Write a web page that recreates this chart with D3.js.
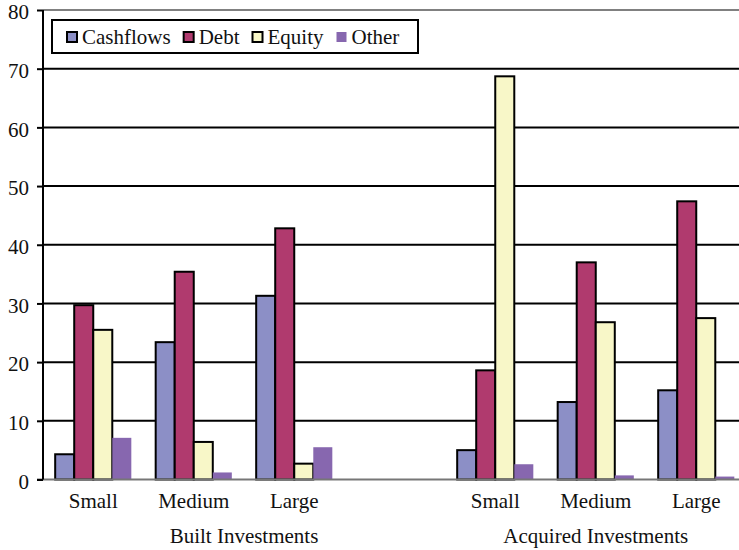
<!DOCTYPE html>
<html>
<head>
<meta charset="utf-8">
<script src="https://cdn.jsdelivr.net/npm/d3@7"></script>
<style>
  body { margin: 0; background: #fff; }
</style>
</head>
<body>
<div id="chart"></div>
<script>
// category layout: built group keeps an empty slot at its end
const groups = ["Built Investments", "Acquired Investments"];
const builtSlots = ["Small", "Medium", "Large", ""];
const acquiredSlots = ["Small", "Medium", "Large"];

const seriesNames = ["Cashflows", "Debt", "Equity", "Other"];
// values per non-empty slot: built small/medium/large, acquired small/medium/large
const cashflows = [4.3, 23.4, 31.3, 5.0, 13.2, 15.2];
const debt = [29.7, 35.4, 42.8, 18.6, 37.0, 47.4];
const equity = [25.5, 6.4, 2.7, 68.7, 26.8, 27.5];
const other = [7.1, 1.2, 5.5, 2.6, 0.7, 0.5];

const yTicks = [0, 10, 20, 30, 40, 50, 60, 70, 80];
const colors = ["#8c8fc6", "#b03a6e", "#f8f7c8", "#8767af"];

const FONT = '"Liberation Serif", "Times New Roman", Times, "DejaVu Serif", serif';
const WIDTH = 739, HEIGHT = 550;
const PLOT = { LEFT: 43, RIGHT: 746.5, TOP: 10, BOTTOM: 479.5 };

const svg = d3.select("#chart").append("svg")
  .attr("width", WIDTH).attr("height", HEIGHT)
  .attr("font-family", FONT);

/** slots: one per x position */
const slots = [];
builtSlots.forEach((s) => slots.push({ group: groups[0], label: s }));
acquiredSlots.forEach((s) => slots.push({ group: groups[1], label: s }));

const bars = [];
let k = 0;
slots.forEach((s, i) => {
  if (s.label === "") return;
  bars.push({ slot: i, values: [cashflows[k], debt[k], equity[k], other[k]] });
  k++;
});

const x0 = d3.scaleBand().domain(d3.range(slots.length))
  .range([PLOT.LEFT, PLOT.RIGHT]).padding(0);
const x1 = d3.scaleBand().domain(seriesNames)
  .range([0, x0.bandwidth()]).paddingInner(0).paddingOuter(0.64);
const y = d3.scaleLinear().domain([0, 80]).range([PLOT.BOTTOM, PLOT.TOP]);
const color = d3.scaleOrdinal().domain(seriesNames).range(colors);

// gridlines
svg.append("g").selectAll("line").data(yTicks.filter((t) => t > 0))
  .join("line")
  .attr("x1", PLOT.LEFT).attr("x2", PLOT.RIGHT)
  .attr("y1", (d) => y(d)).attr("y2", (d) => y(d))
  .attr("stroke", (d) => (d === 80 ? "#808080" : "#000"))
  .attr("stroke-width", 2);

// bars
svg.append("g").selectAll("g").data(bars).join("g")
  .attr("transform", (d) => `translate(${x0(d.slot)},0)`)
  .selectAll("rect")
  .data((d) => seriesNames.map((key, i) => ({ key: key, value: d.values[i] })))
  .join("rect")
  .attr("x", (d) => x1(d.key))
  .attr("y", (d) => y(d.value))
  .attr("width", x1.bandwidth())
  .attr("height", (d) => y(0) - y(d.value))
  .attr("fill", (d) => color(d.key))
  .attr("stroke", (d) => (d.key === "Other" ? "none" : "#000"))
  .attr("stroke-width", 2);

// baseline
svg.append("line")
  .attr("x1", PLOT.LEFT - 6).attr("x2", PLOT.RIGHT)
  .attr("y1", y(0)).attr("y2", y(0))
  .attr("stroke", "#777").attr("stroke-width", 2);

// y axis
const yAxis = svg.append("g").attr("transform", `translate(${PLOT.LEFT},0)`)
  .call(d3.axisLeft(y).tickValues(yTicks).tickSize(6).tickPadding(8));
yAxis.attr("font-family", FONT).attr("font-size", 21);
yAxis.select(".domain").attr("stroke", "#000").attr("stroke-width", 2)
  .attr("d", `M0,${PLOT.TOP}V${PLOT.BOTTOM}`);
yAxis.selectAll(".tick line").attr("stroke", "#000").attr("stroke-width", 2);
yAxis.selectAll(".tick text").attr("fill", "#111").attr("dy", "0.42em");

// category labels
svg.append("g").selectAll("text").data(slots.map((s, i) => ({ ...s, i })).filter((s) => s.label))
  .join("text")
  .attr("x", (d) => x0(d.i) + x0.bandwidth() / 2)
  .attr("y", 508)
  .attr("text-anchor", "middle")
  .attr("font-size", 21).attr("fill", "#111")
  .text((d) => d.label);

// group labels
svg.append("g").selectAll("text").data(groups).join("text")
  .attr("x", (g) => {
    const idx = slots.map((s, i) => (s.group === g ? i : -1)).filter((i) => i >= 0);
    return (x0(idx[0]) + x0(idx[idx.length - 1]) + x0.bandwidth()) / 2;
  })
  .attr("y", 543)
  .attr("text-anchor", "middle")
  .attr("font-size", 21).attr("fill", "#111")
  .text((g) => g);

// legend
const legend = svg.append("g");
legend.append("rect")
  .attr("x", 52).attr("y", 20).attr("width", 366).attr("height", 33)
  .attr("fill", "#fff").attr("stroke", "#000").attr("stroke-width", 2);

let lx = 67;
seriesNames.forEach((name) => {
  const item = legend.append("g").attr("transform", `translate(${lx},0)`);
  item.append("rect")
    .attr("x", 0).attr("y", 32).attr("width", 10).attr("height", 10)
    .attr("fill", color(name))
    .attr("stroke", name === "Other" ? "none" : "#000")
    .attr("stroke-width", 2);
  const t = item.append("text")
    .attr("x", 15).attr("y", 44)
    .attr("font-size", 21).attr("fill", "#111")
    .text(name);
  lx += 15 + t.node().getComputedTextLength() + 13;
});
</script>
</body>
</html>
